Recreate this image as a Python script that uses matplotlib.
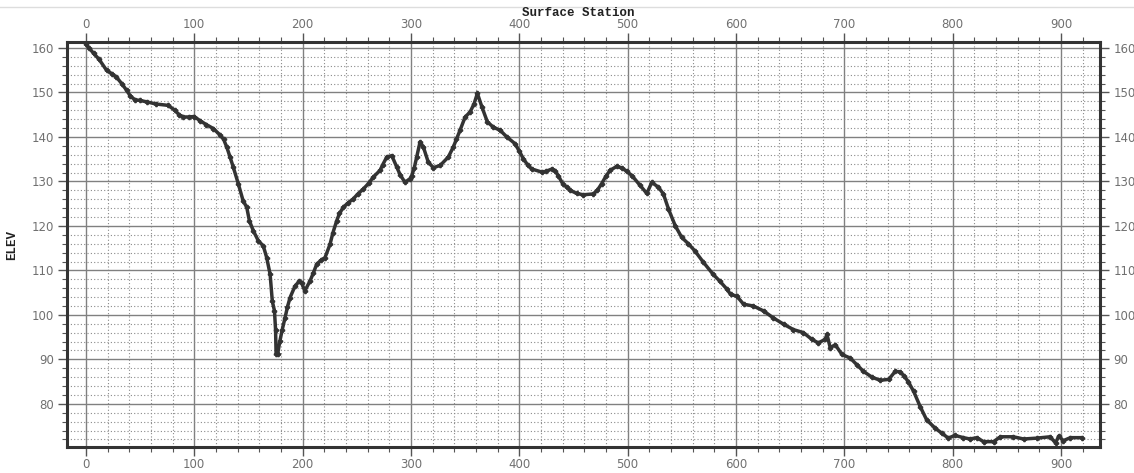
import matplotlib
matplotlib.use("Agg")
import matplotlib.pyplot as plt
from matplotlib.lines import Line2D
from matplotlib.ticker import MultipleLocator

# Surface profile: station along the line and ground elevation
station = [0, 3, 7, 12, 19, 24, 28, 33, 37.5, 41, 45, 50, 56, 65, 76, 82, 86, 90,
           95, 100, 105, 111, 117.5, 124, 127, 130, 133, 136, 140.6, 145, 148.4,
           150.8, 154.5, 159, 163.7, 166.8, 170, 172, 174, 175, 175.5, 177, 179,
           181, 183.7, 186, 188.4, 193, 197, 199, 202, 206.8, 210, 213, 217, 220.7,
           225.3, 228, 231.5, 234, 237.6, 242, 246.8, 251, 256, 261, 265.3, 271.5,
           274, 277.7, 282.3, 286.9, 290, 294.5, 299, 300.7, 303, 305.3, 308.4,
           311.5, 316, 320.7, 327, 334.5, 339, 342, 345.3, 350, 354.6, 358.3,
           361.3, 365.4, 370.5, 376, 382.3, 388.5, 396, 400, 403.8, 408, 411.5,
           420.8, 425, 430, 433, 436, 440, 443.9, 447, 453, 459, 468.4, 472, 476,
           480, 483.8, 490, 495, 499, 504, 511.5, 517.7, 522.3, 528.4, 533, 537.7,
           544, 550, 556, 562, 570, 579, 585, 591.6, 595, 600.8, 607, 616, 625.4,
           634.6, 644, 653, 662.3, 670, 676, 682.3, 684, 687, 691.6, 697.8, 705.4,
           711.6, 717.7, 725.5, 733, 741, 747, 751.6, 755, 759, 764, 770, 776, 784,
           790, 796, 802, 810, 816, 822.4, 828.5, 837.8, 844, 856, 865.5, 878, 890,
           895, 898, 902, 908.6, 919]
elev = [160.8, 160.0, 158.8, 157.5, 155.0, 154.2, 153.5, 152.0, 150.5, 149.2, 148.4,
        148.2, 147.9, 147.4, 147.1, 146.0, 145.0, 144.5, 144.5, 144.6, 143.7, 142.8,
        141.9, 140.4, 139.5, 137.7, 135.5, 133.2, 129.5, 125.7, 124.2, 121.2, 118.9,
        116.7, 115.5, 112.9, 109.1, 103.1, 100.9, 96.7, 91.2, 91.3, 94.1, 96.5, 99.3,
        101.8, 103.9, 106.5, 107.6, 107.2, 105.4, 107.6, 109.5, 111.4, 112.3, 112.9,
        115.9, 118.5, 121.2, 122.8, 124.2, 125.2, 126.1, 127.2, 128.3, 129.6, 131.0,
        132.5, 133.8, 135.5, 135.8, 133.2, 131.5, 129.8, 130.6, 131.3, 133.0, 135.5,
        138.9, 137.7, 134.3, 133.1, 133.6, 135.5, 137.7, 139.5, 141.5, 144.5, 145.6,
        147.5, 149.8, 146.8, 143.4, 142.2, 141.5, 140.0, 138.5, 136.8, 135.1, 133.6,
        132.8, 132.1, 132.3, 132.8, 132.4, 131.3, 129.5, 128.7, 128.0, 127.3, 127.0,
        127.2, 128.0, 129.5, 131.2, 132.5, 133.4, 133.0, 132.3, 131.3, 129.1, 127.3,
        129.8, 128.7, 127.2, 123.8, 120.0, 117.4, 116.0, 114.4, 111.8, 109.1, 107.6,
        105.8, 104.6, 104.2, 102.4, 102.0, 100.9, 99.3, 97.9, 96.7, 96.0, 94.5, 93.7,
        94.5, 95.6, 92.6, 93.3, 91.1, 90.3, 88.8, 87.3, 86.0, 85.3, 85.5, 87.3, 87.2,
        86.3, 85.0, 82.8, 79.4, 76.4, 74.5, 73.4, 72.3, 72.9, 72.4, 72.1, 72.4, 71.5,
        71.5, 72.6, 72.6, 72.1, 72.3, 72.6, 71.2, 72.8, 71.7, 72.4, 72.4]

x_major = [0, 100, 200, 300, 400, 500, 600, 700, 800, 900]
y_major = [80, 90, 100, 110, 120, 130, 140, 150, 160]

W, H = 1134, 473
fig = plt.figure(figsize=(W / 100, H / 100), dpi=100)
ax = fig.add_axes([67 / W, 1 - 447 / H, (1100 - 67) / W, (447 - 42) / H])

ax.plot(station, elev, color="#333333", lw=2.5, solid_joinstyle="round",
        solid_capstyle="round", marker="P", markersize=3.0, zorder=3)

ax.set_xlim(-17.5, 936)
ax.set_ylim(70.3, 161.35)
ax.set_xticks(x_major)
ax.set_yticks(y_major)
ax.xaxis.set_minor_locator(MultipleLocator(20))
ax.yaxis.set_minor_locator(MultipleLocator(2))

ax.grid(which="major", color="#808080", lw=1.0, linestyle="-")
ax.grid(which="minor", color="#8a8a8a", lw=0.8, linestyle=(0, (1, 2)))
ax.set_axisbelow(True)

for sp in ax.spines.values():
    sp.set_linewidth(2.2)
    sp.set_color("#333333")

ax.tick_params(which="both", direction="out", top=True, right=True,
               labeltop=True, labelright=True, color="#555555",
               labelcolor="#707070", labelsize=8.5)
ax.tick_params(which="major", length=6.5, width=1.0, pad=1.5)
ax.tick_params(which="minor", length=3.5, width=0.8)
ax.tick_params(axis="y", which="major", pad=3)

mono = {"family": "Liberation Mono", "weight": "bold", "size": 9, "color": "#222222"}
fig.text(578 / W, 1 - 13 / H, "Surface Station", ha="center", va="center", **mono)
fig.text(12 / W, 1 - 245 / H, "ELEV", ha="center", va="center", rotation=90, **mono)

fig.add_artist(Line2D([0, 1], [1 - 7 / H, 1 - 7 / H], color="#dddddd", lw=1.0,
                      transform=fig.transFigure))

fig.savefig("out.png", dpi=100, facecolor="white")
